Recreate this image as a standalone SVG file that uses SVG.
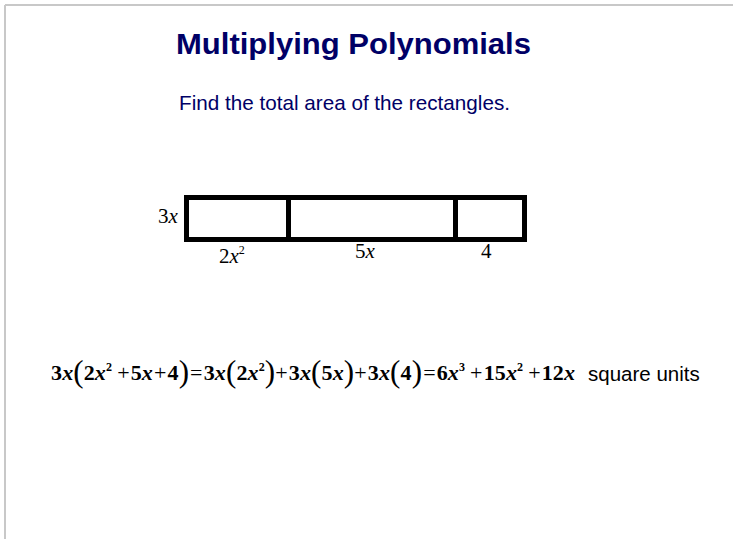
<svg xmlns="http://www.w3.org/2000/svg" width="733" height="539" viewBox="0 0 733 539">
<style>
.ttl{font-family:"Liberation Sans",Arial,sans-serif;font-weight:bold;fill:#000066}
.sub{font-family:"Liberation Sans",Arial,sans-serif;fill:#000066}
.box{fill:#fff;stroke:#000;stroke-width:5}
.lbl{font-family:"Liberation Serif","Times New Roman",serif;font-size:21px;fill:#000}
.eq{font-family:"Liberation Serif","Times New Roman",serif;font-size:22px;font-weight:bold;fill:#000}
.it{font-style:italic}
.sp{font-size:12px}
.op{font-weight:normal}
.par{font-weight:normal;font-size:31px}
.su{font-family:"Liberation Sans",Arial,sans-serif;font-size:20.5px;fill:#000}
</style>
<rect width="733" height="539" fill="#fff"/>
<g id="frame">
<line x1="5" y1="5" x2="733" y2="5" stroke="#c8c8c8" stroke-width="2"/>
<line x1="5" y1="5" x2="5" y2="539" stroke="#c8c8c8" stroke-width="2"/>
</g>
<g id="title"><text class="ttl" x="176" y="54" font-size="29" textLength="355" lengthAdjust="spacingAndGlyphs">Multiplying Polynomials</text></g>
<g id="subtitle"><text class="sub" x="179" y="110" font-size="21" textLength="331" lengthAdjust="spacingAndGlyphs">Find the total area of the rectangles.</text></g>
<g id="rect-2x2"><rect class="box" x="186.5" y="197.5" width="102" height="42"/></g>
<g id="rect-5x"><rect class="box" x="288.5" y="197.5" width="167" height="42"/></g>
<g id="rect-4"><rect class="box" x="455.5" y="197.5" width="69" height="42"/></g>
<g id="labels">
<text class="lbl" x="158" y="223">3<tspan class="it">x</tspan></text>
<text class="lbl" x="219" y="263">2<tspan class="it">x</tspan><tspan class="sp" dy="-9">2</tspan></text>
<text class="lbl" x="355" y="258">5<tspan class="it">x</tspan></text>
<text class="lbl" x="481" y="258">4</text>
</g>
<g id="equation">
<text class="eq" x="51" y="380" textLength="524" lengthAdjust="spacing">3<tspan class="it">x</tspan><tspan class="par" dy="2">(</tspan><tspan dy="-2">2</tspan><tspan class="it">x</tspan><tspan class="sp" dy="-9">2</tspan><tspan class="op" dy="9" dx="5">+</tspan><tspan dx="1">5</tspan><tspan class="it">x</tspan><tspan class="op" dx="1">+</tspan><tspan dx="1">4</tspan><tspan class="par" dy="2">)</tspan><tspan class="op" dy="-2" dx="1">=</tspan><tspan dx="1">3</tspan><tspan class="it">x</tspan><tspan class="par" dy="2">(</tspan><tspan dy="-2">2</tspan><tspan class="it">x</tspan><tspan class="sp" dy="-9">2</tspan><tspan class="par" dy="11">)</tspan><tspan class="op" dy="-2">+</tspan><tspan dx="1">3</tspan><tspan class="it">x</tspan><tspan class="par" dy="2">(</tspan><tspan dy="-2">5</tspan><tspan class="it">x</tspan><tspan class="par" dy="2">)</tspan><tspan class="op" dy="-2">+</tspan><tspan dx="1">3</tspan><tspan class="it">x</tspan><tspan class="par" dy="2">(</tspan><tspan dy="-2">4</tspan><tspan class="par" dy="2">)</tspan><tspan class="op" dy="-2" dx="1">=</tspan><tspan dx="1">6</tspan><tspan class="it">x</tspan><tspan class="sp" dy="-9">3</tspan><tspan class="op" dy="9" dx="5">+</tspan><tspan dx="1">15</tspan><tspan class="it">x</tspan><tspan class="sp" dy="-9">2</tspan><tspan class="op" dy="9" dx="5">+</tspan><tspan dx="1">12</tspan><tspan class="it">x</tspan></text>
<text class="su" x="588" y="381">square units</text>
</g>
</svg>
